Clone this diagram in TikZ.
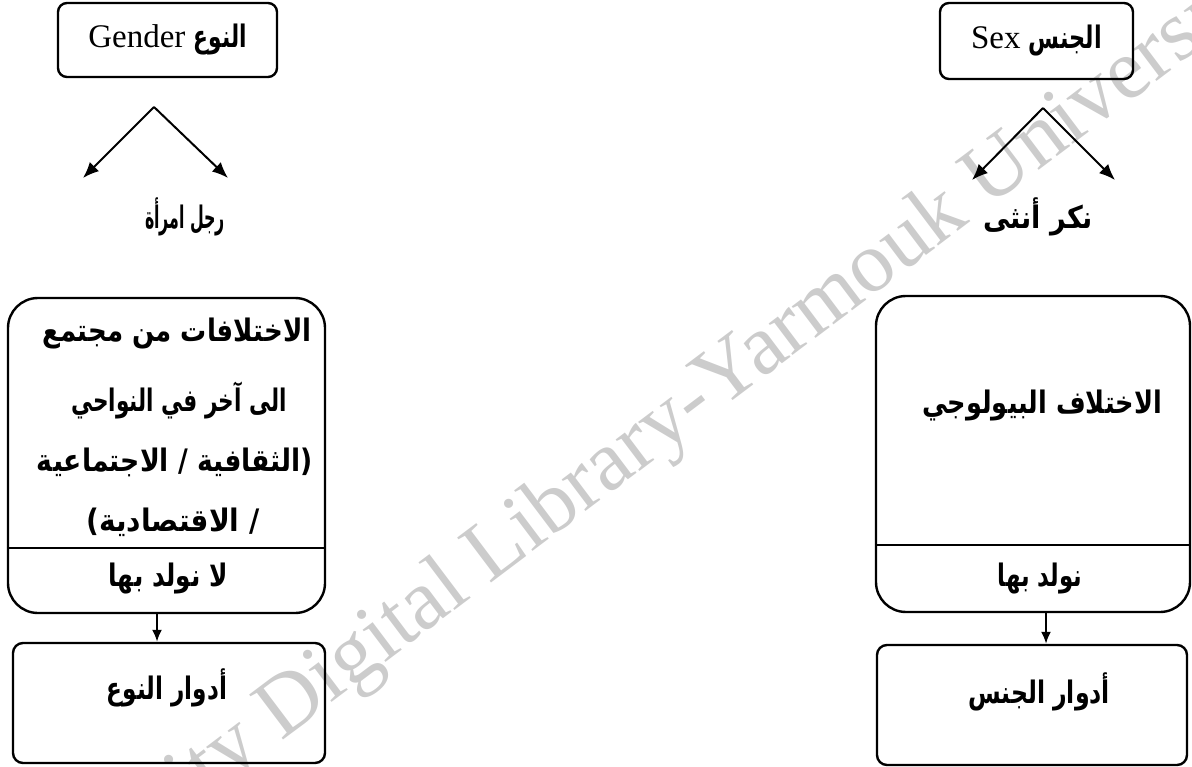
\documentclass[tikz,border=0pt]{standalone}
\usepackage{fontspec}
\usepackage{graphicx}
\setmainfont{Liberation Serif}
\newfontfamily\ar[Script=Arabic]{DejaVu Sans}
\TeXXeTstate=1
\usetikzlibrary{arrows.meta}
\newcommand\aw[2]{\resizebox{#1}{\height}{\ar\bfseries\fontsize{31}{36}\selectfont #2}}
\begin{document}
\begin{tikzpicture}[x=1pt,y=-1pt,
  boxs/.style={draw,line width=2.4pt,rectangle,inner sep=0pt},
  txt/.style={inner sep=0pt},
  arr/.style={line width=2pt,-{Latex[length=16pt,width=13pt]}},
  varr/.style={line width=2pt,-{Latex[length=12pt,width=10pt]}},
  wm/.style={inner sep=0pt,text=black!20,font=\fontsize{86}{90}\selectfont}]
\useasboundingbox (0,0) rectangle (1192,767);
% watermark
\begin{scope}
\clip (0,0) rectangle (1192,767);
\node[wm,rotate=37,anchor=base west] (wmark) at (718,412) {\llap{Yarmouk University Digital Library-}Yarmouk University};
\end{scope}
% top boxes
\node[boxs,rounded corners=9pt,minimum width=219pt,minimum height=74pt,font=\fontsize{33}{36}\selectfont] (gbox) at (167.5,40) {Gender \aw{53pt}{\beginR النوع\endR}};
\node[boxs,rounded corners=9pt,minimum width=193pt,minimum height=76pt,font=\fontsize{33}{36}\selectfont] (sbox) at (1036.5,41) {Sex \aw{73pt}{\beginR الجنس\endR}};
% apexes and tips
\coordinate (ga) at (154,107);
\coordinate (gl) at (83,178);
\coordinate (gr) at (228,178);
\coordinate (sa) at (1043,108);
\coordinate (sl) at (972,180);
\coordinate (sr) at (1115,180);
\draw[arr] (ga) -- (gl);
\draw[arr] (ga) -- (gr);
\draw[arr] (sa) -- (sl);
\draw[arr] (sa) -- (sr);
\node[txt] (gsub) at (185,217) {\aw{80pt}{\beginR رجل امرأة\endR}};
\node[txt] (ssub) at (1038,217) {\aw{110pt}{\beginR نكر أنثى\endR}};
% big boxes
\node[boxs,rounded corners=30pt,minimum width=317pt,minimum height=315pt] (lbig) at (166.5,455.5) {};
\node[boxs,rounded corners=30pt,minimum width=314pt,minimum height=316pt] (rbig) at (1033,454) {};
\coordinate (ldiv) at (0,548);
\coordinate (rdiv) at (0,545);
\draw[line width=1.8pt] (lbig.west |- ldiv) -- (lbig.east |- ldiv);
\draw[line width=1.8pt] (rbig.west |- rdiv) -- (rbig.east |- rdiv);
\node[txt] (l1) at (177,334) {\aw{269pt}{\beginR الاختلافات من مجتمع\endR}};
\node[txt] (l2) at (179,400) {\aw{215pt}{\beginR الى آخر في النواحي\endR}};
\node[txt] (l3) at (175,462) {\aw{276pt}{\beginR (الثقافية / الاجتماعية\endR}};
\node[txt] (l4) at (173,522) {\aw{173pt}{\beginR / الاقتصادية)\endR}};
\node[txt] (lborn) at (168,579) {\aw{119pt}{\beginR لا نولد بها\endR}};
\node[txt] (r1) at (1042,406) {\aw{240pt}{\beginR الاختلاف البيولوجي\endR}};
\node[txt] (rborn) at (1040,579) {\aw{85pt}{\beginR نولد بها\endR}};
% bottom boxes
\node[boxs,rounded corners=10pt,minimum width=312pt,minimum height=120pt] (lrole) at (169,703) {};
\node[boxs,rounded corners=10pt,minimum width=310pt,minimum height=120pt] (rrole) at (1032,705) {};
\node[txt] (lroletxt) at (167,688) {\aw{120pt}{\beginR أدوار النوع\endR}};
\node[txt] (rroletxt) at (1039,692) {\aw{142pt}{\beginR أدوار الجنس\endR}};
% down arrows
\draw[varr] ([xshift=-9.5pt]lbig.south) -- ([xshift=-9.5pt]lbig.south |- lrole.north);
\draw[varr] ([xshift=13pt]rbig.south) -- ([xshift=13pt]rbig.south |- rrole.north);
\end{tikzpicture}
\end{document}
